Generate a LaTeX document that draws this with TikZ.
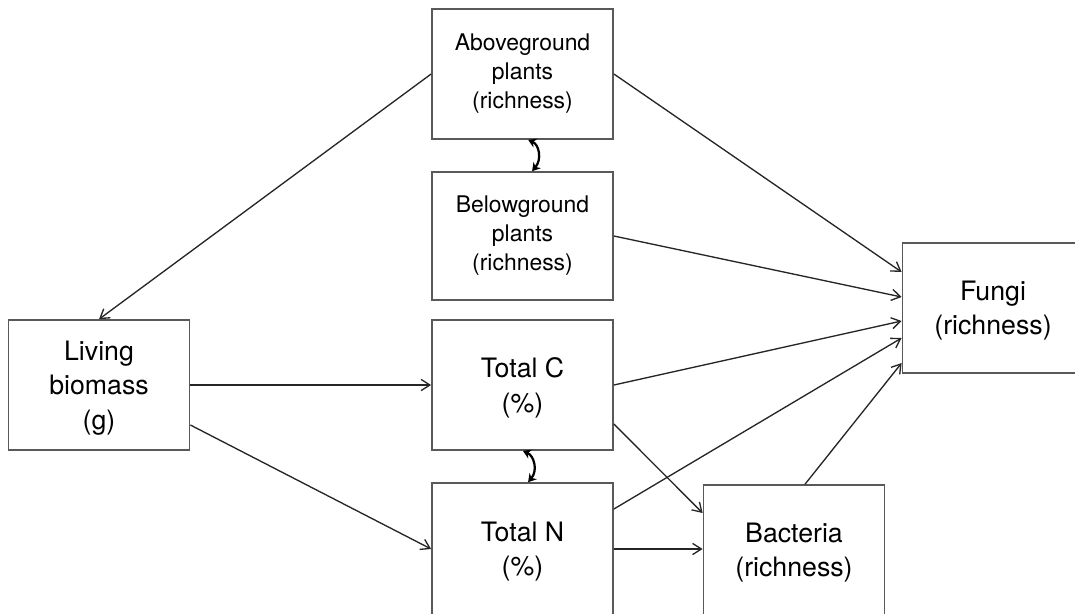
\documentclass[tikz,border=0pt]{standalone}
\usepackage{fontspec}
\setmainfont{TeX Gyre Heros}
\usetikzlibrary{arrows.meta}
\newcommand{\boxfont}{\fontsize{19}{24.5}\selectfont}
\newcommand{\plantfont}{\fontsize{16.3}{20.6}\selectfont}
\tikzset{
  box/.style      = {draw=black!65,line width=1.1pt,minimum width=4.53cm,
                     minimum height=3.25cm,align=center,inner sep=2pt,
                     text depth=-0.12cm,font=\boxfont},
  plantbox/.style = {box,text depth=,font=\plantfont},
  link/.style     = {-{Straight Barb[length=2.2mm,width=2.8mm]},
                     line width=0.95pt,draw=black!85},
  covar/.style    = {{Stealth[length=2mm,width=2.4mm]}-{Stealth[length=2mm,width=2.4mm]},
                     line width=1.6pt},
}

\begin{document}
\begin{tikzpicture}[x=0.025cm,y=-0.025cm]
  \useasboundingbox (0,0) rectangle (1075,613);
  % boxes
  \node[plantbox] (above)  at (522.5,74)  {Aboveground\\plants\\(richness)};
  \node[plantbox,minimum height=3.2cm] (below) at (522.5,236) {Belowground\\plants\\(richness)};
  \node[box] (totc)   at (522.5,385) {Total C\\(\%)};
  \node[box,minimum height=3.3cm] (totn) at (522.5,549) {Total N\\(\%)};
  \node[box] (living) at (99,385)    {Living\\biomass\\(g)};
  \node[box] (fungi)  at (993,308)   {Fungi\\(richness)};
  \node[box] (bact)   at (794,550)   {Bacteria\\(richness)};
  % paths
  \draw[link] (above.west) -- (living.north);
  \draw[link] (above.east) -- ([yshift=0.9cm]fungi.west);
  \draw[link] (below.east) -- ([yshift=0.275cm]fungi.west);
  \draw[link] (totc.east) -- ([yshift=-0.325cm]fungi.west);
  \draw[link] ([yshift=1cm]totn.east) -- ([yshift=-0.75cm]fungi.west);
  \draw[link] ([xshift=0.275cm]bact.north) -- ([yshift=-1.375cm]fungi.west);
  \draw[link] ([yshift=-0.975cm]totc.east) -- ([yshift=0.925cm]bact.west);
  \draw[link] (totn.east) -- (totn.east -| bact.west);
  \draw[link] (living.east) -- (totc.west);
  \draw[link] ([yshift=-1cm]living.east) -- (totn.west);
  % correlations
  \draw[covar] ([xshift=0.14cm]above.south) .. controls +(11,5) and +(10,-12) .. ([xshift=0.24cm]below.north);
  \draw[covar] ([xshift=0.01cm]totc.south) .. controls +(11,5) and +(10,-12) .. ([xshift=0.14cm]totn.north);
\end{tikzpicture}
\end{document}
